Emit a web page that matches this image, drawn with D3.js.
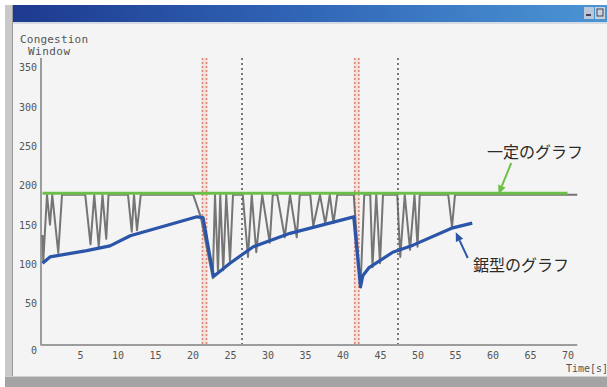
<!DOCTYPE html>
<html>
<head>
<meta charset="utf-8">
<script src="https://cdn.jsdelivr.net/npm/d3@7/dist/d3.min.js"></script>
<style>
  html, body { margin: 0; padding: 0; background: #ffffff; }
  svg { display: block; }
</style>
</head>
<body>
<svg id="chart" width="607" height="387"></svg>
<script>
// Axis ticks
const xTicks = [5, 10, 15, 20, 25, 30, 35, 40, 45, 50, 55, 60, 65, 70];
const yTicks = [0, 50, 100, 150, 200, 250, 300, 350];

// Constant window ("一定のグラフ")
const flatTime = [0, 70];
const flatValue = 193;

// Sawtooth window ("鋸型のグラフ")
const sawTime  = [0, 1.0, 5.9, 9.0, 11.7, 20.6, 21.4, 22.8, 25.0, 28.1, 33.0, 41.5, 42.4, 42.7, 43.5, 46.7, 49.4, 54.7, 57.3];
const sawValue = [104, 112, 120, 126, 139, 163, 162, 87, 104, 125, 142, 163, 74, 88, 98, 118, 127, 149, 155];

// Measured congestion window (grey trace)
const cwndTime  = [0, 0.1, 0.6, 1.0, 1.3, 2.1, 2.6, 5.7, 6.4, 6.9, 7.5, 8.0, 8.5, 8.8,
                   11.4, 11.9, 12.2, 12.6, 13.1, 20.1, 21.1, 22.7,
                   23.0, 23.4, 23.7, 24.1, 24.5, 25.0, 25.4,
                   26.7, 27.4, 27.9, 28.5, 29.3, 30.3, 30.7,
                   31.3, 32.3, 33.0, 33.9, 34.3,
                   35.7, 36.1, 37.0, 37.7, 38.3, 38.8, 39.3,
                   41.5, 41.7, 42.4, 42.9,
                   43.7, 44.0, 44.5, 45.0, 45.4,
                   47.3, 47.7, 48.3, 49.0, 49.6, 50.0, 50.3,
                   54.1, 54.6, 55.0, 71.3];
const cwndValue = [140, 106, 191, 153, 191, 117, 191, 191, 128, 191, 125, 191, 135, 191,
                   191, 144, 191, 146, 191, 191, 163, 85,
                   191, 93, 191, 95, 191, 106, 191,
                   191, 112, 191, 118, 191, 130, 191,
                   191, 137, 191, 137, 191,
                   191, 151, 191, 154, 191, 155, 191,
                   191, 163, 74, 191,
                   191, 99, 191, 104, 191,
                   191, 112, 191, 121, 191, 125, 191,
                   191, 150, 191, 191];

// Event markers
const lossTimes = [21.6, 41.9];
const timeoutTimes = [26.6, 47.4];

const svg = d3.select("#chart");

const x = d3.scaleLinear().domain([0, 70]).range([42.5, 567.5]);
const y = d3.scaleLinear().domain([0, 365]).range([345, 58]);

// ---- window frame ----
svg.append("rect").attr("x", 0).attr("y", 0).attr("width", 607).attr("height", 387).attr("fill", "#f4f4f4");
svg.append("rect").attr("x", 0).attr("y", 0).attr("width", 607).attr("height", 5).attr("fill", "#ffffff");
svg.append("rect").attr("x", 0).attr("y", 0).attr("width", 5).attr("height", 387).attr("fill", "#ffffff");
svg.append("rect").attr("x", 5).attr("y", 5).attr("width", 8).attr("height", 382).attr("fill", "#c9c9c9");
svg.append("rect").attr("x", 12).attr("y", 5).attr("width", 1).attr("height", 382).attr("fill", "#9a9a9a");

const grad = svg.append("defs").append("linearGradient").attr("id", "tb")
  .attr("x1", "0%").attr("x2", "100%").attr("y1", "0%").attr("y2", "0%");
grad.append("stop").attr("offset", "0%").attr("stop-color", "#1d3a8e");
grad.append("stop").attr("offset", "45%").attr("stop-color", "#2f62b4");
grad.append("stop").attr("offset", "100%").attr("stop-color", "#4b95d4");
svg.append("rect").attr("x", 13).attr("y", 5).attr("width", 594).attr("height", 17).attr("fill", "url(#tb)");
svg.append("rect").attr("x", 13).attr("y", 22).attr("width", 594).attr("height", 2).attr("fill", "#d6dbe3");
// title bar buttons
svg.append("rect").attr("x", 584).attr("y", 7).attr("width", 10).attr("height", 12).attr("fill", "#b9c7d8");
svg.append("rect").attr("x", 595).attr("y", 7).attr("width", 10).attr("height", 12).attr("fill", "#c9d3df");
svg.append("rect").attr("x", 586).attr("y", 14).attr("width", 5).attr("height", 2).attr("fill", "#445");
svg.append("rect").attr("x", 597).attr("y", 9).attr("width", 6).attr("height", 7).attr("fill", "none").attr("stroke", "#445").attr("stroke-width", 1);

// bottom bar
svg.append("rect").attr("x", 5).attr("y", 377).attr("width", 602).attr("height", 10).attr("fill", "#a4a4a4");
svg.append("rect").attr("x", 5).attr("y", 376).attr("width", 602).attr("height", 1).attr("fill", "#d0d0d0");

// ---- axis titles ----
const mono = "'DejaVu Sans Mono', 'Liberation Mono', monospace";
svg.append("text").attr("x", 20).attr("y", 43).text("Congestion")
  .attr("font-family", mono).attr("font-size", 11).attr("fill", "#555").attr("textLength", 68);
svg.append("text").attr("x", 28).attr("y", 55).text("Window")
  .attr("font-family", mono).attr("font-size", 11).attr("fill", "#555").attr("textLength", 42);
svg.append("text").attr("x", 566).attr("y", 372).text("Time[s]")
  .attr("font-family", mono).attr("font-size", 10).attr("fill", "#555");

// ---- event markers ----
const markers = svg.append("g");
lossTimes.forEach(t => {
  markers.append("rect")
    .attr("x", x(t) - 3).attr("width", 6)
    .attr("y", y(365)).attr("height", y(0) - y(365))
    .attr("fill", "#f3d9d2").attr("opacity", 0.7);
  [-2, 2].forEach(dx => {
    markers.append("line")
      .attr("x1", x(t) + dx).attr("x2", x(t) + dx)
      .attr("y1", y(365)).attr("y2", y(0))
      .attr("stroke", "#d98a78").attr("stroke-width", 1.6)
      .attr("stroke-dasharray", "2,2");
  });
});
timeoutTimes.forEach(t => {
  markers.append("line")
    .attr("x1", x(t)).attr("x2", x(t))
    .attr("y1", y(365)).attr("y2", y(0))
    .attr("stroke", "#5a5a5a").attr("stroke-width", 1.6)
    .attr("stroke-dasharray", "2,3");
});

// ---- axes ----
const xAxis = svg.append("g").attr("transform", `translate(0,${y(0)})`)
  .call(d3.axisBottom(x).tickValues(xTicks).tickSize(0).tickPadding(7).tickFormat(d3.format("d")));
xAxis.select(".domain").attr("stroke", "#9c9c9c").attr("stroke-width", 2)
  .attr("d", `M${x(0) - 2},0H${x(71.3)}`);
xAxis.selectAll("text").attr("font-family", mono).attr("font-size", 10).attr("fill", "#555");

const yAxis = svg.append("g").attr("transform", `translate(${x(0) - 1.5},0)`)
  .call(d3.axisLeft(y).tickValues(yTicks).tickSize(0).tickPadding(4).tickFormat(d3.format("d")));
yAxis.select(".domain").attr("stroke", "#9c9c9c").attr("stroke-width", 2)
  .attr("d", `M0,${y(365)}V${y(0)}`);
yAxis.selectAll("text").attr("font-family", mono).attr("font-size", 10).attr("fill", "#555")
  .attr("dy", d => d === 0 ? "0.8em" : "0.1em");

// ---- series ----
const line = d3.line().x(d => x(d[0])).y(d => y(d[1]));

svg.append("path")
  .datum(cwndTime.map((t, i) => [t, cwndValue[i]]))
  .attr("d", line).attr("fill", "none")
  .attr("stroke", "#5e5e5e").attr("stroke-width", 2).attr("stroke-opacity", 0.85)
  .attr("stroke-linejoin", "round");

svg.append("path")
  .datum(flatTime.map(t => [t, flatValue]))
  .attr("d", line).attr("fill", "none")
  .attr("stroke", "#6cc04a").attr("stroke-width", 3);

svg.append("path")
  .datum(sawTime.map((t, i) => [t, sawValue[i]]))
  .attr("d", line).attr("fill", "none")
  .attr("stroke", "#2b55a8").attr("stroke-width", 3.2)
  .attr("stroke-linejoin", "round");

// ---- annotations ----
function arrow(x1, y1, x2, y2, color) {
  const ang = Math.atan2(y2 - y1, x2 - x1);
  const len = 9, w = 4;
  const bx = x2 - len * Math.cos(ang), by = y2 - len * Math.sin(ang);
  svg.append("line").attr("x1", x1).attr("y1", y1).attr("x2", bx).attr("y2", by)
    .attr("stroke", color).attr("stroke-width", 2);
  svg.append("path")
    .attr("d", `M${x2},${y2}L${bx + w * Math.sin(ang)},${by - w * Math.cos(ang)}L${bx - w * Math.sin(ang)},${by + w * Math.cos(ang)}Z`)
    .attr("fill", color);
}
arrow(x(62.5), 163, x(60.8), y(flatValue) + 1, "#6cc04a");
arrow(x(56.7), 258, x(55.1), y(146) + 2, "#2b55a8");

const jp = "'Noto Sans CJK JP', 'Noto Sans CJK SC', sans-serif";
svg.append("text").attr("x", 487).attr("y", 158).text("一定のグラフ")
  .attr("font-family", jp).attr("font-size", 16).attr("fill", "#2a2a2a");
svg.append("text").attr("x", 473).attr("y", 271).text("鋸型のグラフ")
  .attr("font-family", jp).attr("font-size", 16).attr("fill", "#2a2a2a");
</script>
</body>
</html>
